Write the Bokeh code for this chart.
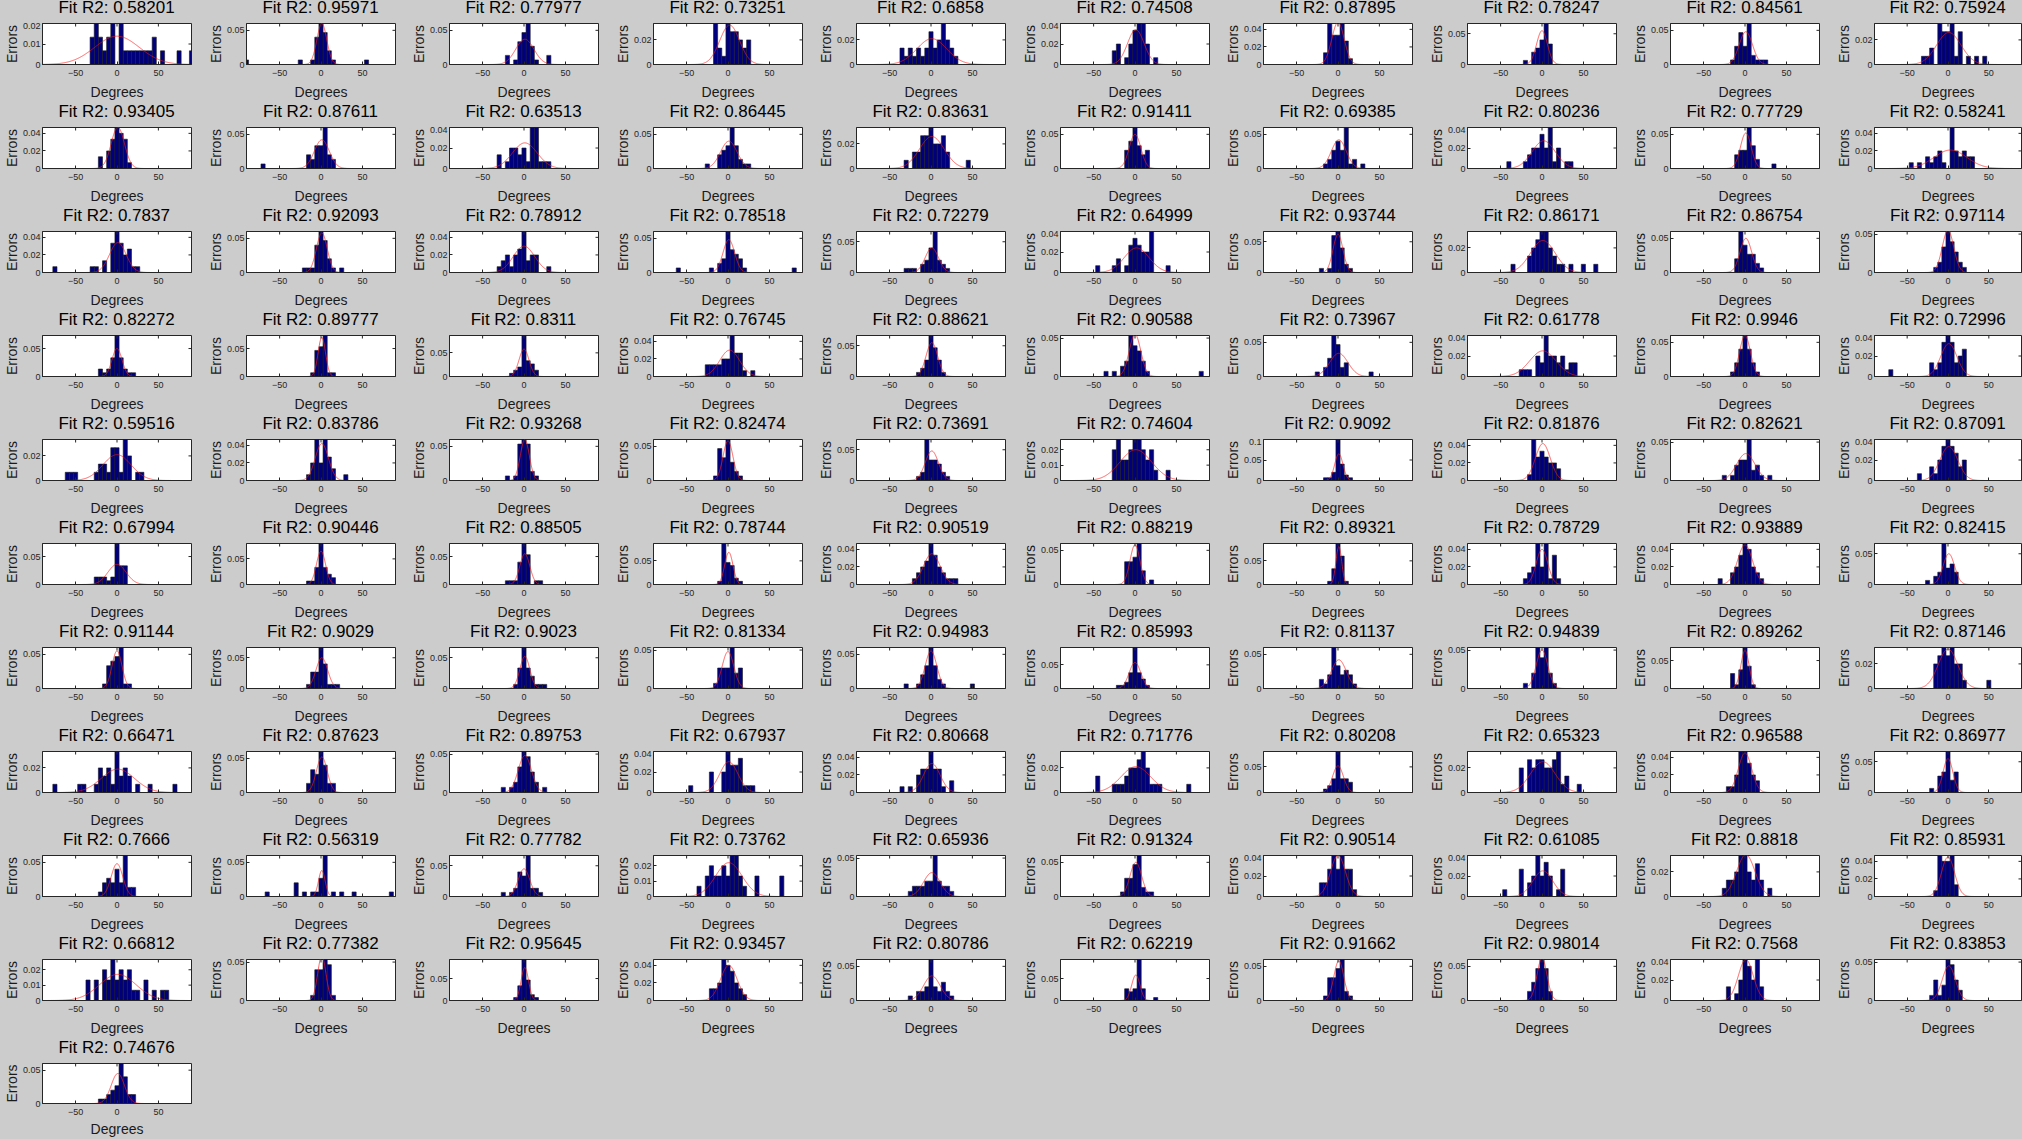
import numpy as np
from bokeh.plotting import figure
from bokeh.layouts import row, column
from bokeh.models import Range1d, FixedTicker, CustomJSTickFormatter, Div
from bokeh.embed import file_html
from bokeh.resources import INLINE

# ---------------- data ----------------
FIT_R2 = [
    0.58201, 0.95971, 0.77977, 0.73251, 0.6858, 0.74508, 0.87895, 0.78247, 0.84561, 0.75924,
    0.93405, 0.87611, 0.63513, 0.86445, 0.83631, 0.91411, 0.69385, 0.80236, 0.77729, 0.58241,
    0.7837, 0.92093, 0.78912, 0.78518, 0.72279, 0.64999, 0.93744, 0.86171, 0.86754, 0.97114,
    0.82272, 0.89777, 0.8311, 0.76745, 0.88621, 0.90588, 0.73967, 0.61778, 0.9946, 0.72996,
    0.59516, 0.83786, 0.93268, 0.82474, 0.73691, 0.74604, 0.9092, 0.81876, 0.82621, 0.87091,
    0.67994, 0.90446, 0.88505, 0.78744, 0.90519, 0.88219, 0.89321, 0.78729, 0.93889, 0.82415,
    0.91144, 0.9029, 0.9023, 0.81334, 0.94983, 0.85993, 0.81137, 0.94839, 0.89262, 0.87146,
    0.66471, 0.87623, 0.89753, 0.67937, 0.80668, 0.71776, 0.80208, 0.65323, 0.96588, 0.86977,
    0.7666, 0.56319, 0.77782, 0.73762, 0.65936, 0.91324, 0.90514, 0.61085, 0.8818, 0.85931,
    0.66812, 0.77382, 0.95645, 0.93457, 0.80786, 0.62219, 0.91662, 0.98014, 0.7568, 0.83853,
    0.74676,
]

# histogram counts per 5-degree bin (key = bin centre in degrees)
HIST_COUNTS = [
    {-30: 2, -25: 3, -20: 2, -15: 1, -10: 2, -5: 3, 5: 3, 10: 1, 15: 1, 20: 1, 25: 1, 30: 1, 35: 1, 40: 1, 45: 2, 55: 1, 75: 1, 90: 1},
    {-90: 1, -25: 1, -10: 1, -5: 6, 0: 9, 5: 7, 10: 3, 15: 1, 55: 1},
    {-20: 2, -10: 1, -5: 5, 0: 7, 5: 9, 10: 4, 15: 1, 30: 2},
    {-15: 5, -10: 2, -5: 1, 0: 5, 5: 4, 10: 4, 15: 3, 20: 2, 25: 3},
    {-35: 2, -30: 1, -25: 2, -20: 1, -15: 2, -10: 1, -5: 2, 0: 4, 5: 2, 10: 3, 15: 5, 20: 3, 25: 2, 30: 1},
    {-25: 2, -20: 3, -10: 1, -5: 3, 0: 5, 5: 6, 10: 6, 15: 3, 25: 1},
    {-15: 2, -10: 7, -5: 5, 0: 5, 5: 7, 10: 4, 15: 1},
    {-20: 1, -10: 3, -5: 4, 0: 6, 5: 10, 10: 5},
    {-15: 1, -10: 4, -5: 7, 0: 4, 5: 9, 10: 2, 15: 1, 20: 1, 25: 1},
    {-30: 1, -25: 1, -20: 2, -10: 5, -5: 4, 0: 4, 5: 5, 10: 1, 15: 4, 25: 1, 35: 1, 45: 1},
    {-20: 2, -10: 3, -5: 5, 0: 7, 5: 6, 10: 5, 15: 1},
    {-70: 1, -15: 3, -10: 2, -5: 5, 0: 5, 5: 9, 10: 3, 15: 2},
    {-30: 2, -20: 1, -15: 3, -10: 3, -5: 2, 0: 3, 5: 1, 10: 6, 15: 6, 20: 1, 25: 1, 30: 1},
    {-25: 1, -10: 3, -5: 4, 0: 5, 5: 9, 10: 5, 15: 2, 20: 1, 25: 1},
    {-30: 1, -20: 2, -15: 2, -10: 4, -5: 4, 0: 5, 5: 3, 10: 3, 15: 4, 20: 2, 45: 1},
    {-10: 4, -5: 6, 0: 9, 5: 5, 10: 3, 15: 4},
    {-15: 1, -10: 2, -5: 4, 0: 6, 5: 4, 10: 9, 15: 1, 20: 2, 30: 1},
    {-40: 1, -20: 1, -15: 2, -10: 3, -5: 3, 0: 5, 5: 3, 10: 6, 15: 1, 20: 3, 30: 1, 35: 1},
    {-10: 3, -5: 4, 0: 4, 5: 9, 10: 5, 15: 2, 35: 1},
    {-45: 1, -35: 1, -25: 2, -20: 1, -15: 2, -10: 3, -5: 1, 5: 7, 10: 3, 15: 2, 20: 3, 25: 2, 30: 2},
    {-75: 1, -30: 1, -25: 1, -15: 2, -5: 5, 0: 7, 5: 5, 10: 3, 15: 4, 20: 1, 25: 1},
    {-20: 1, -15: 1, -10: 1, -5: 6, 0: 9, 5: 7, 10: 3, 15: 1, 25: 1},
    {-30: 1, -25: 2, -20: 3, -15: 1, -10: 3, -5: 4, 0: 7, 5: 2, 10: 3, 15: 3, 30: 1},
    {-60: 1, -20: 1, -10: 2, -5: 3, 0: 9, 5: 5, 10: 4, 15: 3, 20: 1, 80: 1},
    {-30: 1, -25: 1, -20: 1, -10: 2, -5: 3, 0: 6, 5: 10, 10: 3, 15: 2, 20: 1},
    {-45: 1, -25: 1, -20: 2, -10: 1, -5: 4, 0: 5, 5: 4, 10: 3, 15: 3, 20: 6, 40: 1},
    {-20: 1, -10: 1, -5: 9, 0: 10, 5: 6, 10: 2, 15: 1},
    {-35: 1, -15: 2, -10: 3, -5: 4, 0: 5, 5: 5, 10: 3, 15: 2, 20: 1, 25: 1, 35: 1, 50: 1, 65: 1},
    {-10: 3, -5: 9, 0: 6, 5: 4, 10: 4, 15: 2, 20: 1},
    {-15: 1, -10: 2, -5: 5, 0: 8, 5: 6, 10: 4, 15: 2, 20: 1},
    {-20: 2, -15: 1, -10: 2, -5: 5, 0: 11, 5: 5, 10: 2, 15: 1, 20: 1},
    {-10: 1, -5: 7, 0: 8, 5: 11, 10: 1, 15: 1},
    {-15: 1, -10: 2, -5: 3, 0: 13, 5: 5, 10: 4, 15: 2},
    {-25: 2, -20: 2, -15: 2, -10: 2, -5: 3, 0: 3, 5: 7, 10: 4, 15: 4, 20: 1, 30: 1},
    {-15: 1, -10: 2, -5: 4, 0: 10, 5: 7, 10: 4, 15: 1},
    {-35: 1, -25: 1, -15: 2, -10: 3, -5: 8, 0: 6, 5: 5, 10: 3, 15: 1, 80: 1},
    {-25: 1, -15: 2, -10: 4, -5: 9, 0: 7, 5: 2, 10: 3, 40: 1},
    {-25: 1, -20: 1, -15: 1, -5: 3, 0: 2, 5: 6, 10: 3, 15: 3, 20: 2, 25: 3, 30: 1, 35: 2, 40: 2},
    {-15: 1, -10: 3, -5: 6, 0: 9, 5: 6, 10: 3, 15: 1},
    {-70: 1, -20: 2, -15: 1, -10: 2, -5: 5, 0: 6, 5: 5, 10: 2, 15: 3, 20: 4},
    {-60: 1, -55: 1, -50: 1, -25: 1, -20: 2, -15: 2, -10: 1, -5: 4, 0: 4, 5: 1, 10: 5, 15: 3, 25: 1, 30: 1},
    {-15: 1, -10: 3, -5: 7, 0: 3, 5: 7, 10: 4, 15: 2, 30: 1},
    {-20: 1, -10: 1, -5: 8, 0: 9, 5: 8, 10: 2, 15: 1},
    {-15: 1, -10: 7, -5: 5, 0: 9, 5: 4, 10: 2, 15: 1},
    {-15: 1, -10: 2, -5: 10, 0: 5, 5: 5, 10: 4, 15: 2, 20: 1},
    {-25: 3, -20: 4, -15: 2, -10: 2, -5: 3, 0: 4, 5: 4, 10: 3, 15: 2, 20: 3, 25: 1, 40: 1},
    {-15: 1, -10: 1, -5: 3, 0: 15, 5: 6, 10: 2, 15: 1},
    {-15: 1, -10: 7, -5: 4, 0: 5, 5: 4, 10: 3, 15: 3, 20: 2},
    {-25: 1, -15: 1, -10: 3, -5: 4, 0: 4, 5: 8, 10: 2, 15: 3, 20: 1, 30: 1},
    {-35: 1, -20: 2, -15: 1, -10: 3, -5: 5, 0: 6, 5: 5, 10: 4, 15: 2, 20: 3},
    {-25: 2, -20: 2, -15: 2, -10: 1, -5: 2, 0: 11, 5: 5, 10: 5},
    {-15: 1, -10: 1, -5: 5, 0: 12, 5: 5, 10: 3, 15: 2},
    {-20: 1, -15: 1, -10: 1, -5: 6, 0: 11, 5: 8, 15: 1, 20: 1},
    {-10: 1, -5: 13, 0: 7, 5: 6, 10: 2, 15: 1},
    {-20: 1, -15: 2, -10: 3, -5: 4, 0: 7, 5: 5, 10: 3, 15: 2, 20: 1, 25: 1, 30: 1},
    {-10: 5, -5: 5, 0: 6, 5: 9, 10: 3, 20: 1},
    {-10: 1, -5: 5, 0: 13, 5: 9, 10: 1},
    {-20: 1, -15: 2, -10: 3, -5: 7, 0: 3, 5: 7, 10: 1, 15: 5, 20: 1},
    {-30: 1, -15: 2, -10: 3, -5: 5, 0: 7, 5: 6, 10: 3, 15: 2, 20: 1},
    {-25: 1, -15: 2, -10: 3, -5: 10, 0: 4, 5: 5, 10: 3},
    {-15: 1, -10: 5, -5: 6, 0: 7, 5: 9, 10: 1, 15: 1},
    {-15: 1, -10: 4, -5: 4, 0: 10, 5: 6, 10: 1, 15: 1, 20: 1},
    {-10: 1, -5: 5, 0: 10, 5: 5, 10: 3, 15: 1, 20: 1, 25: 1},
    {-15: 1, -10: 4, -5: 4, 0: 4, 5: 8, 10: 3, 15: 4},
    {-30: 1, -15: 1, -10: 3, -5: 5, 0: 9, 5: 5, 10: 2, 15: 1, 50: 1},
    {-20: 1, -15: 1, -10: 2, -5: 5, 0: 13, 5: 5, 10: 3, 15: 1},
    {-20: 2, -15: 1, -10: 3, -5: 9, 0: 5, 5: 3, 10: 4, 15: 3, 20: 1},
    {-20: 1, -10: 3, -5: 8, 0: 6, 5: 8, 10: 3, 15: 1},
    {-15: 4, -10: 1, -5: 5, 0: 11, 5: 6, 10: 1},
    {-15: 3, -10: 4, -5: 5, 0: 4, 5: 5, 10: 3, 15: 3, 20: 1, 50: 1},
    {-75: 1, -45: 1, -40: 1, -25: 1, -20: 3, -15: 2, -10: 3, -5: 1, 0: 5, 5: 2, 10: 3, 15: 2, 25: 1, 40: 1, 70: 1},
    {-15: 2, -10: 5, -5: 4, 0: 9, 5: 6, 10: 2, 15: 2},
    {-25: 1, -15: 1, -10: 2, -5: 5, 0: 8, 5: 7, 10: 4, 15: 2, 25: 1},
    {-45: 1, -20: 3, -5: 3, 0: 6, 5: 4, 10: 4, 15: 5, 20: 1, 25: 1, 30: 1},
    {-35: 1, -25: 1, -15: 3, -10: 4, -5: 4, 0: 7, 5: 4, 10: 4, 15: 1, 25: 2},
    {-45: 2, -25: 1, -20: 1, -15: 1, -10: 2, -5: 3, 0: 3, 5: 4, 10: 5, 15: 3, 20: 1, 25: 1, 30: 1, 65: 1},
    {-15: 1, -10: 2, -5: 4, 0: 12, 5: 4, 10: 4, 15: 3},
    {-25: 3, -15: 4, -10: 3, -5: 4, 0: 4, 5: 3, 10: 3, 15: 4, 20: 5, 25: 1, 30: 2, 45: 1},
    {-20: 1, -15: 1, -10: 3, -5: 7, 0: 7, 5: 5, 10: 3, 15: 2},
    {-20: 1, -10: 4, -5: 5, 0: 10, 5: 3, 10: 5},
    {-20: 1, -15: 3, -10: 4, -5: 3, 0: 6, 5: 3, 10: 9, 15: 2, 20: 2},
    {-65: 1, -30: 3, -20: 1, -10: 1, -5: 1, 0: 4, 5: 9, 15: 1, 25: 1, 40: 1, 85: 1},
    {-25: 1, -15: 1, -10: 2, -5: 6, 0: 5, 5: 10, 10: 2, 15: 2, 20: 1},
    {-35: 1, -25: 2, -20: 3, -15: 2, -10: 2, -5: 3, 0: 2, 5: 4, 10: 4, 15: 2, 20: 1, 35: 2, 65: 2},
    {-25: 1, -20: 2, -15: 2, -10: 2, -5: 3, 0: 3, 5: 8, 10: 3, 15: 2, 20: 2, 25: 1},
    {-15: 1, -10: 4, -5: 4, 0: 7, 5: 9, 10: 2, 15: 1, 20: 1},
    {-20: 2, -15: 2, -10: 4, -5: 6, 0: 4, 5: 6, 10: 4, 15: 4, 20: 1},
    {-45: 1, -25: 4, -15: 2, -10: 3, -5: 6, 0: 3, 5: 5, 10: 3, 20: 1, 25: 4},
    {-25: 1, -20: 2, -15: 2, -10: 3, -5: 5, 0: 5, 5: 3, 10: 2, 15: 4, 20: 2, 30: 1},
    {-15: 1, -10: 7, -5: 6, 0: 6, 5: 7, 10: 2},
    {-35: 2, -25: 2, -15: 3, -10: 2, -5: 4, 0: 2, 5: 3, 10: 2, 15: 3, 20: 1, 25: 1, 35: 2, 45: 1, 55: 1, 60: 1},
    {-10: 1, -5: 6, 0: 6, 5: 8, 10: 7, 15: 1},
    {-10: 1, -5: 5, 0: 14, 5: 7, 10: 2, 15: 1},
    {-20: 2, -15: 2, -10: 3, -5: 7, 0: 6, 5: 5, 10: 3, 15: 2, 20: 1},
    {-25: 1, -15: 2, -10: 2, -5: 3, 0: 9, 5: 3, 10: 2, 15: 4, 20: 2, 25: 1},
    {-10: 4, -5: 3, 0: 4, 5: 14, 10: 4, 25: 1},
    {-15: 1, -10: 5, -5: 5, 0: 7, 5: 9, 10: 2, 15: 1},
    {-15: 2, -10: 4, -5: 7, 0: 9, 5: 7, 10: 2},
    {-20: 2, -10: 1, -5: 3, 0: 6, 5: 5, 10: 3, 15: 6, 20: 2},
    {-20: 1, -15: 4, -10: 1, -5: 3, 0: 8, 5: 7, 10: 4, 15: 2},
    {-20: 1, -15: 1, -10: 2, -5: 3, 0: 4, 5: 9, 10: 6, 15: 2, 20: 2},
]

# fitted gaussian (peak density, mean, sigma) per panel
FIT_PEAK = [
    0.0138, 0.060, 0.037, 0.032, 0.021, 0.034, 0.048, 0.055, 0.048, 0.026,
    0.047, 0.042, 0.025, 0.040, 0.026, 0.050, 0.042, 0.027, 0.052, 0.021,
    0.034, 0.058, 0.030, 0.048, 0.040, 0.024, 0.062, 0.026, 0.050, 0.055,
    0.050, 0.070, 0.058, 0.030, 0.055, 0.055, 0.034, 0.025, 0.060, 0.032,
    0.021, 0.042, 0.060, 0.058, 0.048, 0.020, 0.065, 0.042, 0.035, 0.033,
    0.036, 0.065, 0.055, 0.068, 0.035, 0.058, 0.080, 0.040, 0.045, 0.050,
    0.055, 0.050, 0.052, 0.048, 0.055, 0.055, 0.042, 0.050, 0.068, 0.032,
    0.019, 0.052, 0.048, 0.030, 0.033, 0.021, 0.052, 0.025, 0.045, 0.055,
    0.048, 0.038, 0.045, 0.022, 0.031, 0.050, 0.040, 0.025, 0.034, 0.045,
    0.017, 0.058, 0.075, 0.040, 0.036, 0.058, 0.058, 0.062, 0.040, 0.045,
    0.045,
]
FIT_MU = [
    0, 1, 1, 2, 1, 1, 0, 0, 1, 1,
    1, 1, 1, 1, 1, 0, 1, 2, 1, 3,
    1, 1, 0, 1, 1, 2, 0, 1, 1, 0,
    0, 1, 0, 2, 1, 0, 1, 1, 0, 1,
    0, 1, 1, 0, 1, 1, 1, 1, 1, 1,
    0, 0, 1, 1, 1, 0, 1, 0, 0, 1,
    0, 1, 1, 0, 0, 0, 1, 0, 0, 0,
    1, 1, 1, 1, 1, 1, 0, 1, 0, 0,
    0, 1, 0, 1, 1, 1, 0, 1, 1, 0,
    1, 1, 1, 1, 1, 1, 1, 0, 1, 1,
    1,
]
FIT_SIGMA = [
    27, 6, 11, 12, 18, 10, 7.5, 6.5, 8, 15,
    8, 9, 15, 10, 15, 7, 9, 14, 6.5, 20,
    10, 6.5, 13, 7, 8, 15, 6, 15, 7, 7,
    6, 4.5, 6, 12, 7, 7, 11, 16, 6.5, 10,
    17, 8, 5.5, 6, 8, 19, 5, 9, 11, 11,
    11, 5.5, 6, 5, 10, 6, 3.5, 7, 9, 7,
    6, 7, 6, 7, 7, 7, 9, 7, 5, 12,
    20, 6.5, 8, 11, 10, 18, 6.5, 15, 8, 6,
    7, 4, 7, 16, 10, 7, 9, 12, 11, 8,
    22, 5, 4.5, 10, 10, 5, 6, 6, 9, 8,
    8,
]

X_TICKS = [-50, 0, 50]
BIN_WIDTH = 5.0
N_SAMPLES = 30

# ---------------- style / layout ----------------
BG = "#cccccc"
FONT = "Liberation Sans"
AX = "#262626"
NCOLS = 10
COL_W = [204, 203, 204, 203, 204, 203, 204, 203, 204, 190]
LEFT, FRAME_H = 42, 41
TITLE_H = 22          # height of the title strip above each axes box
ROW_H, LAST_ROW_H = 104, 99
TICK_PX = 3
X_LO, X_HI = -90, 90

tick_fmt = CustomJSTickFormatter(code="""
    if (Math.abs(tick) < 1e-9) { return '0'; }
    return String(parseFloat(tick.toFixed(4)));
""")


def y_step(ymax):
    if ymax < 0.03:
        return 0.01
    if ymax < 0.05:
        return 0.02
    return 0.05


def make_cell(i):
    r, c = divmod(i, NCOLS)
    last_row = r >= 10
    w = COL_W[c]
    h = (LAST_ROW_H if last_row else ROW_H) - TITLE_H
    frame_w = 149 if c < NCOLS - 1 else 147
    counts = HIST_COUNTS[i]
    keys = sorted(counts.keys())
    centers = np.array(keys, dtype=float)
    dens = np.array([counts[k] for k in keys], dtype=float) / (N_SAMPLES * BIN_WIDTH)
    ymax = float(dens.max())

    title = Div(
        text=(f'<div style="margin-left:{LEFT}px;width:{frame_w}px;text-align:center;'
              f'white-space:nowrap;font-family:\'{FONT}\';font-size:17px;line-height:17px;'
              f'margin-top:-1px;color:#000;">Fit R2: {FIT_R2[i]}</div>'),
        width=w, height=TITLE_H, margin=(0, 0, 0, 0))

    p = figure(width=w, height=h, x_range=Range1d(X_LO, X_HI), y_range=Range1d(0, ymax),
               output_backend="svg", toolbar_location=None,
               min_border_left=LEFT, min_border_right=w - LEFT - frame_w,
               min_border_top=1, min_border_bottom=h - 1 - FRAME_H,
               background_fill_color="white", border_fill_color=BG, margin=(0, 0, 0, 0))

    p.quad(left=centers - BIN_WIDTH / 2, right=centers + BIN_WIDTH / 2, bottom=0, top=dens,
           fill_color="#00007f", line_color="#1a1a1a", line_width=0.6)

    xs = np.linspace(X_LO, X_HI, 721)
    ys = FIT_PEAK[i] * np.exp(-0.5 * ((xs - FIT_MU[i]) / FIT_SIGMA[i]) ** 2)
    p.line(xs, ys, line_color="#ff2020", line_alpha=0.7, line_width=1)

    step = y_step(ymax)
    yt = [round(k * step, 4) for k in range(int(ymax / step + 1e-6) + 1)]

    # mirrored tick marks on the top and right edges of the box
    dy = ymax * TICK_PX / FRAME_H
    dx = (X_HI - X_LO) * TICK_PX / frame_w
    p.segment(x0=X_TICKS, x1=X_TICKS, y0=[ymax] * len(X_TICKS), y1=[ymax - dy] * len(X_TICKS),
              line_color=AX, line_width=1)
    p.segment(x0=[X_HI] * len(yt), x1=[X_HI - dx] * len(yt), y0=yt, y1=yt,
              line_color=AX, line_width=1)

    p.yaxis.ticker = FixedTicker(ticks=yt)
    p.yaxis.formatter = tick_fmt
    p.xaxis.ticker = FixedTicker(ticks=X_TICKS)
    p.xaxis.axis_label = "Degrees"
    p.yaxis.axis_label = "Errors"
    for ax in (p.xaxis, p.yaxis):
        ax.major_label_text_font = FONT
        ax.major_label_text_font_size = "9px"
        ax.major_label_text_color = AX
        ax.axis_label_text_font = FONT
        ax.axis_label_text_font_size = "14px"
        ax.axis_label_text_font_style = "normal"
        ax.axis_label_text_color = "#1a1a1a"
        ax.major_tick_in = TICK_PX
        ax.major_tick_out = 0
        ax.minor_tick_line_color = None
        ax.axis_line_color = AX
        ax.major_tick_line_color = AX
    p.xaxis.major_label_standoff = 5
    p.xaxis.axis_label_standoff = 3 if last_row else 5
    p.yaxis.major_label_standoff = 2
    p.yaxis.axis_label_standoff = 0
    p.xgrid.visible = False
    p.ygrid.visible = False
    p.outline_line_color = AX
    p.outline_line_width = 1
    return column(title, p, spacing=0, margin=(0, 0, 0, 0))


cells = [make_cell(i) for i in range(len(FIT_R2))]
grid_rows = []
for r in range(0, len(cells), NCOLS):
    grid_rows.append(row(*cells[r:r + NCOLS], spacing=0, margin=(0, 0, 0, 0)))

layout = column(*grid_rows, spacing=0, margin=(0, 0, 0, 0),
                styles={"background-color": BG})

html = file_html(layout, INLINE, title="Fit R2 histograms")
html = html.replace("<body>", '<body style="margin:0;background:#cccccc;">')
open("out.html", "w").write(html)
